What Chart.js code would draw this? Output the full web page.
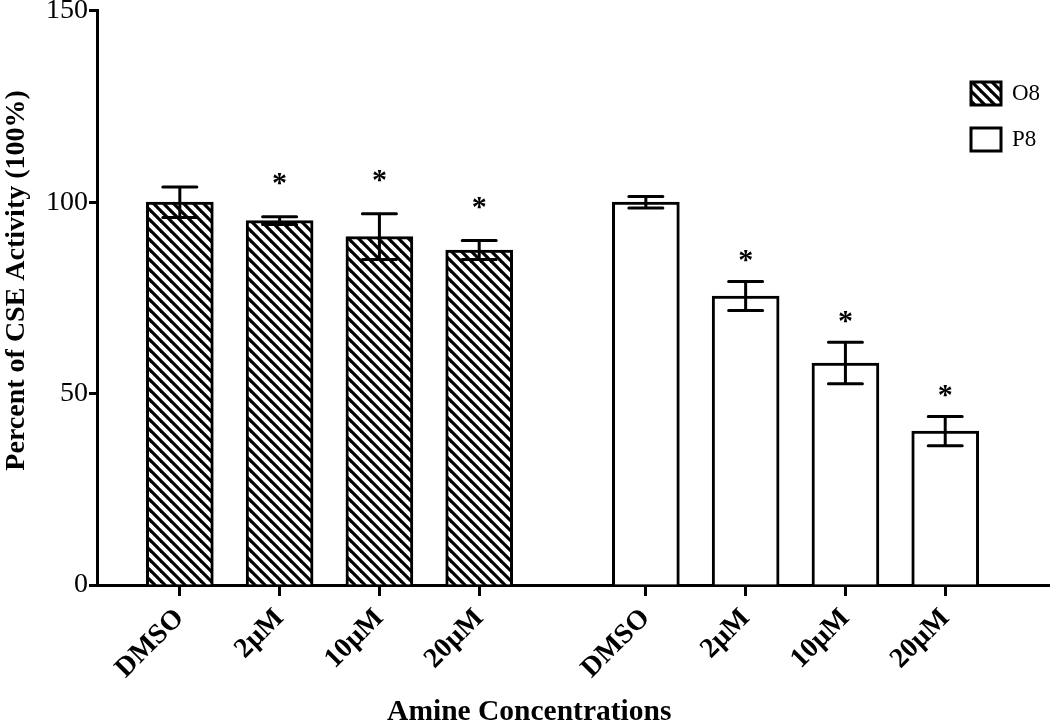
<!DOCTYPE html>
<html>
<head>
<meta charset="utf-8">
<script src="https://cdn.jsdelivr.net/npm/chart.js@4.4.1/dist/chart.umd.min.js"></script>
<style>
  html, body { margin: 0; padding: 0; background: #fff; }
  #wrap { width: 1050px; height: 720px; }
</style>
</head>
<body>
<div id="wrap"><canvas id="myChart" width="1050" height="720"></canvas></div>
<script>
// data
const concLabels = ['DMSO', '2\u00b5M', '10\u00b5M', '20\u00b5M'];
const seriesNames = ['O8', 'P8'];
const o8Values = [100, 95.2, 91, 87.5];
const o8Errors = [4, 1, 6, 2.5];
const p8Values = [100, 75.5, 58, 40.2];
const p8Errors = [1.5, 3.8, 5.4, 3.8];
const o8Signif = [false, true, true, true];
const p8Signif = [false, true, true, true];
const yTicks = [0, 50, 100, 150];

// layout: second group is shifted by a gap of 0.67 slot
const groupGap = 0.67;
const slotO8 = concLabels.map((c, i) => i + 1);
const slotP8 = concLabels.map((c, i) => i + 1 + concLabels.length + groupGap);
const allSlots = slotO8.concat(slotP8);
const allLabels = concLabels.concat(concLabels);

const SERIF = '"Liberation Serif", "DejaVu Serif", serif';

// hatch pattern (\\\)
function makeHatch() {
  const c = document.createElement('canvas');
  c.width = 10; c.height = 10;
  const g = c.getContext('2d');
  g.fillStyle = '#fff';
  g.fillRect(0, 0, 10, 10);
  g.strokeStyle = '#000';
  g.lineWidth = 3.2;
  for (let k = -1; k <= 1; k++) {
    g.beginPath();
    g.moveTo(k * 10 - 2, -2);
    g.lineTo(k * 10 + 12, 12);
    g.stroke();
  }
  return document.getElementById('myChart').getContext('2d').createPattern(c, 'repeat');
}
const hatch = makeHatch();

// error bars + stars
const errPlugin = {
  id: 'errbars',
  afterDatasetsDraw(chart) {
    const ctx = chart.ctx;
    const ys = chart.scales.y;
    chart.data.datasets.forEach((ds, di) => {
      const meta = chart.getDatasetMeta(di);
      meta.data.forEach((bar, i) => {
        const v = ds.data[i].y;
        const e = ds.errors[i];
        const top = ys.getPixelForValue(v + e);
        const bot = ys.getPixelForValue(v - e);
        const x = bar.x;
        ctx.save();
        ctx.strokeStyle = '#000';
        ctx.lineWidth = 3;
        ctx.lineCap = 'round';
        ctx.beginPath();
        ctx.moveTo(x, top); ctx.lineTo(x, bot);
        ctx.moveTo(x - 17, top); ctx.lineTo(x + 17, top);
        ctx.moveTo(x - 17, bot); ctx.lineTo(x + 17, bot);
        ctx.stroke();
        if (ds.signif[i]) {
          ctx.fillStyle = '#000';
          ctx.font = 'bold 30px ' + SERIF;
          ctx.textAlign = 'center';
          ctx.textBaseline = 'middle';
          ctx.fillText('*', x, top - ds.starGap + 6);
        }
        ctx.restore();
      });
    });
  }
};

// legend box at upper right
const legendPlugin = {
  id: 'boxLegend',
  afterDraw(chart) {
    const ctx = chart.ctx;
    chart.data.datasets.forEach((ds, di) => {
      const y0 = 82 + di * 46;
      ctx.save();
      ctx.fillStyle = ds.backgroundColor;
      ctx.fillRect(971, y0, 30, 23);
      ctx.strokeStyle = '#000';
      ctx.lineWidth = 3;
      ctx.strokeRect(971, y0, 30, 23);
      ctx.fillStyle = '#000';
      ctx.font = '23px ' + SERIF;
      ctx.textAlign = 'left';
      ctx.textBaseline = 'middle';
      ctx.fillText(ds.label, 1012, y0 + 12);
      ctx.restore();
    });
  }
};

const data = {
  datasets: [{
    label: seriesNames[0],
    data: o8Values.map((v, i) => ({ x: slotO8[i], y: v })),
    errors: o8Errors,
    signif: o8Signif,
    starGap: 38,
    backgroundColor: hatch,
    borderColor: '#000',
    borderWidth: 3,
    borderSkipped: 'bottom',
    barThickness: 67,
    grouped: false
  }, {
    label: seriesNames[1],
    data: p8Values.map((v, i) => ({ x: slotP8[i], y: v })),
    errors: p8Errors,
    signif: p8Signif,
    starGap: 26,
    backgroundColor: '#fff',
    borderColor: '#000',
    borderWidth: 3,
    borderSkipped: 'bottom',
    barThickness: 67,
    grouped: false
  }]
};

// spaces nudge the centred titles to where they sit in the figure
const xTitle = 'Amine Concentrations' + ' '.repeat(12);
const yTitle = ' '.repeat(5) + 'Percent of CSE Activity (100%)';

const config = {
  type: 'bar',
  data: data,
  options: {
    responsive: false,
    animation: false,
    layout: { padding: { top: 10, right: 0, left: 0, bottom: 0 } },
    plugins: {
      legend: { display: false },
      tooltip: { enabled: false }
    },
    scales: {
      x: {
        type: 'linear',
        offset: false,
        min: 0.17,
        max: 9.72,
        afterBuildTicks: (s) => { s.ticks = allSlots.map(v => ({ value: v })); },
        afterFit: (s) => { s.height = 135; },
        border: { color: '#000', width: 3 },
        grid: { offset: false, drawOnChartArea: false, drawTicks: true, tickLength: 11, tickWidth: 3, tickColor: '#000' },
        ticks: {
          autoSkip: false,
          minRotation: 45,
          maxRotation: 45,
          padding: 6,
          color: '#000',
          font: { family: SERIF, size: 28, weight: 'bold' },
          callback: (v) => {
            const k = allSlots.findIndex(p => Math.abs(p - v) < 1e-6);
            return k >= 0 ? allLabels[k] : '';
          }
        },
        title: {
          display: true,
          text: xTitle,
          color: '#000',
          font: { family: SERIF, size: 29.5, weight: 'bold' },
          padding: { top: 0, bottom: -10 }
        }
      },
      y: {
        min: 0,
        max: 150,
        afterBuildTicks: (s) => { s.ticks = yTicks.map(v => ({ value: v })); },
        afterFit: (s) => { s.width = 97; },
        border: { color: '#000', width: 3 },
        grid: { drawOnChartArea: false, drawTicks: true, tickLength: 8, tickWidth: 3, tickColor: '#000' },
        ticks: {
          padding: 1,
          color: '#000',
          font: { family: SERIF, size: 28, lineHeight: 0.7 }
        },
        title: {
          display: true,
          text: yTitle,
          color: '#000',
          font: { family: SERIF, size: 28, weight: 'bold' },
          padding: { top: 0, bottom: 0 }
        }
      }
    }
  },
  plugins: [errPlugin, legendPlugin]
};

const myChart = new Chart(document.getElementById('myChart'), config);
</script>
</body>
</html>
